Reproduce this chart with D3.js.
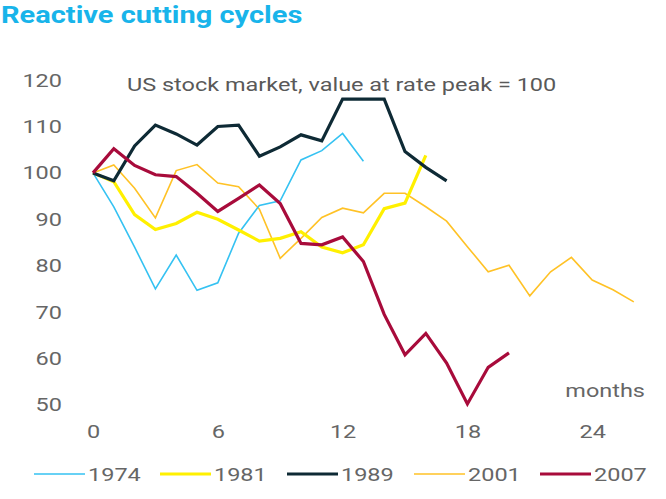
<!DOCTYPE html>
<html><head><meta charset="utf-8">
<script src="https://cdn.jsdelivr.net/npm/d3@7"></script>
<style>
html,body{margin:0;padding:0;background:#fff;}
svg text{font-family:Roboto, "Noto Sans", sans-serif;}
</style></head>
<body><svg id="c" width="666" height="499"></svg>
<script>
const seriesNames = ["1974","1981","1989","2001","2007"];
const v1974 = [100, 92.7, 84, 75, 82.3, 74.7, 76.3, 87, 93, 94, 102.8, 104.8, 108.5, 102.5];
const v1981 = [100, 98.1, 91, 87.8, 89.1, 91.5, 90.0, 87.7, 85.3, 85.9, 87.3, 84.0, 82.8, 84.5, 92.3, 93.5, 103.8];
const v1989 = [100, 98.3, 105.8, 110.3, 108.4, 106.0, 110.0, 110.3, 103.6, 105.6, 108.2, 106.9, 115.9, 115.9, 115.9, 104.6, 101.2, 98.3];
const v2001 = [100, 101.7, 96.7, 90.3, 100.5, 101.8, 97.8, 97.0, 92.2, 81.6, 85.9, 90.4, 92.4, 91.4, 95.6, 95.6, 92.7, 89.6, 84.1, 78.7, 80.1, 73.5, 78.7, 81.8, 76.9, 74.8, 72.2];
const v2007 = [100, 105.2, 101.6, 99.6, 99.2, 95.6, 91.7, 94.5, 97.4, 93.4, 84.8, 84.5, 86.2, 80.9, 69.5, 60.8, 65.4, 59.0, 50.2, 58.1, 61.2];
const colors = ["#35c2f2","#fff000","#0e2a35","#ffc226","#a80b3b"];
const widths = [1.6, 3.2, 3.2, 1.6, 3.2];
const xTicks = [0, 6, 12, 18, 24];
const yTicks = [50, 60, 70, 80, 90, 100, 110, 120];
const title = "Reactive cutting cycles";
const subtitle = "US stock market, value at rate peak = 100";
const xLabel = "months";

const allSeries = [v1974, v1981, v1989, v2001, v2007];
const svg = d3.select("#c");
const x = d3.scaleLinear().domain([0, 24]).range([93, 592.2]);
const y = d3.scaleLinear().domain([50, 120]).range([404.9, 80.1]);
const SX = 1.27;

function stretch(sel, ax, ay, s) {
  sel.attr("transform", `translate(${ax},${ay}) scale(${s},1) translate(${-ax},${-ay})`);
}

const t = svg.append("text").attr("x", 1).attr("y", 23).text(title)
  .attr("font-size", 23.5).attr("font-weight", 700).attr("fill", "#18b4ea");
stretch(t, 1, 23, 1.235);

const st = svg.append("text").attr("x", 127).attr("y", 91).text(subtitle)
  .attr("font-size", 18.5).attr("fill", "#595959");
stretch(st, 127, 91, SX);

const yAxis = d3.axisLeft(y).tickValues(yTicks).tickSize(0).tickPadding(0);
const gy = svg.append("g").attr("transform", "translate(62,0)").call(yAxis);
gy.select(".domain").remove();
gy.selectAll("text").attr("font-size", 18.5).attr("fill", "#666").attr("font-family", "Roboto")
  .attr("transform", `scale(${SX},1)`);

const xAxis = d3.axisBottom(x).tickValues(xTicks).tickSize(0).tickPadding(0);
const gx = svg.append("g").attr("transform", "translate(0,425)").call(xAxis);
gx.select(".domain").remove();
gx.selectAll("text").attr("font-size", 18.5).attr("fill", "#666").attr("font-family", "Roboto")
  .attr("transform", `scale(${SX},1)`);

const ml = svg.append("text").attr("x", 645).attr("y", 397).attr("text-anchor", "end").text(xLabel)
  .attr("font-size", 18.5).attr("fill", "#666");
stretch(ml, 645, 397, SX);

const line = d3.line().x((d, i) => x(i)).y(d => y(d));
const order = [3, 0, 1, 2, 4];
order.forEach(k => {
  svg.append("path").datum(allSeries[k]).attr("d", line)
    .attr("fill", "none").attr("stroke", colors[k]).attr("stroke-width", widths[k])
    .attr("stroke-linejoin", "miter").attr("stroke-linecap", "butt");
});

const legX = [34, 160, 287, 414, 540];
const lg = svg.append("g");
seriesNames.forEach((n, k) => {
  lg.append("line").attr("x1", legX[k]).attr("x2", legX[k] + 51).attr("y1", 474).attr("y2", 474)
    .attr("stroke", colors[k]).attr("stroke-width", widths[k]);
  const tx = legX[k] + 54;
  const lt = lg.append("text").attr("x", tx).attr("y", 481).text(n)
    .attr("font-size", 18.5).attr("fill", "#666");
  stretch(lt, tx, 481, SX);
});
</script></body></html>
